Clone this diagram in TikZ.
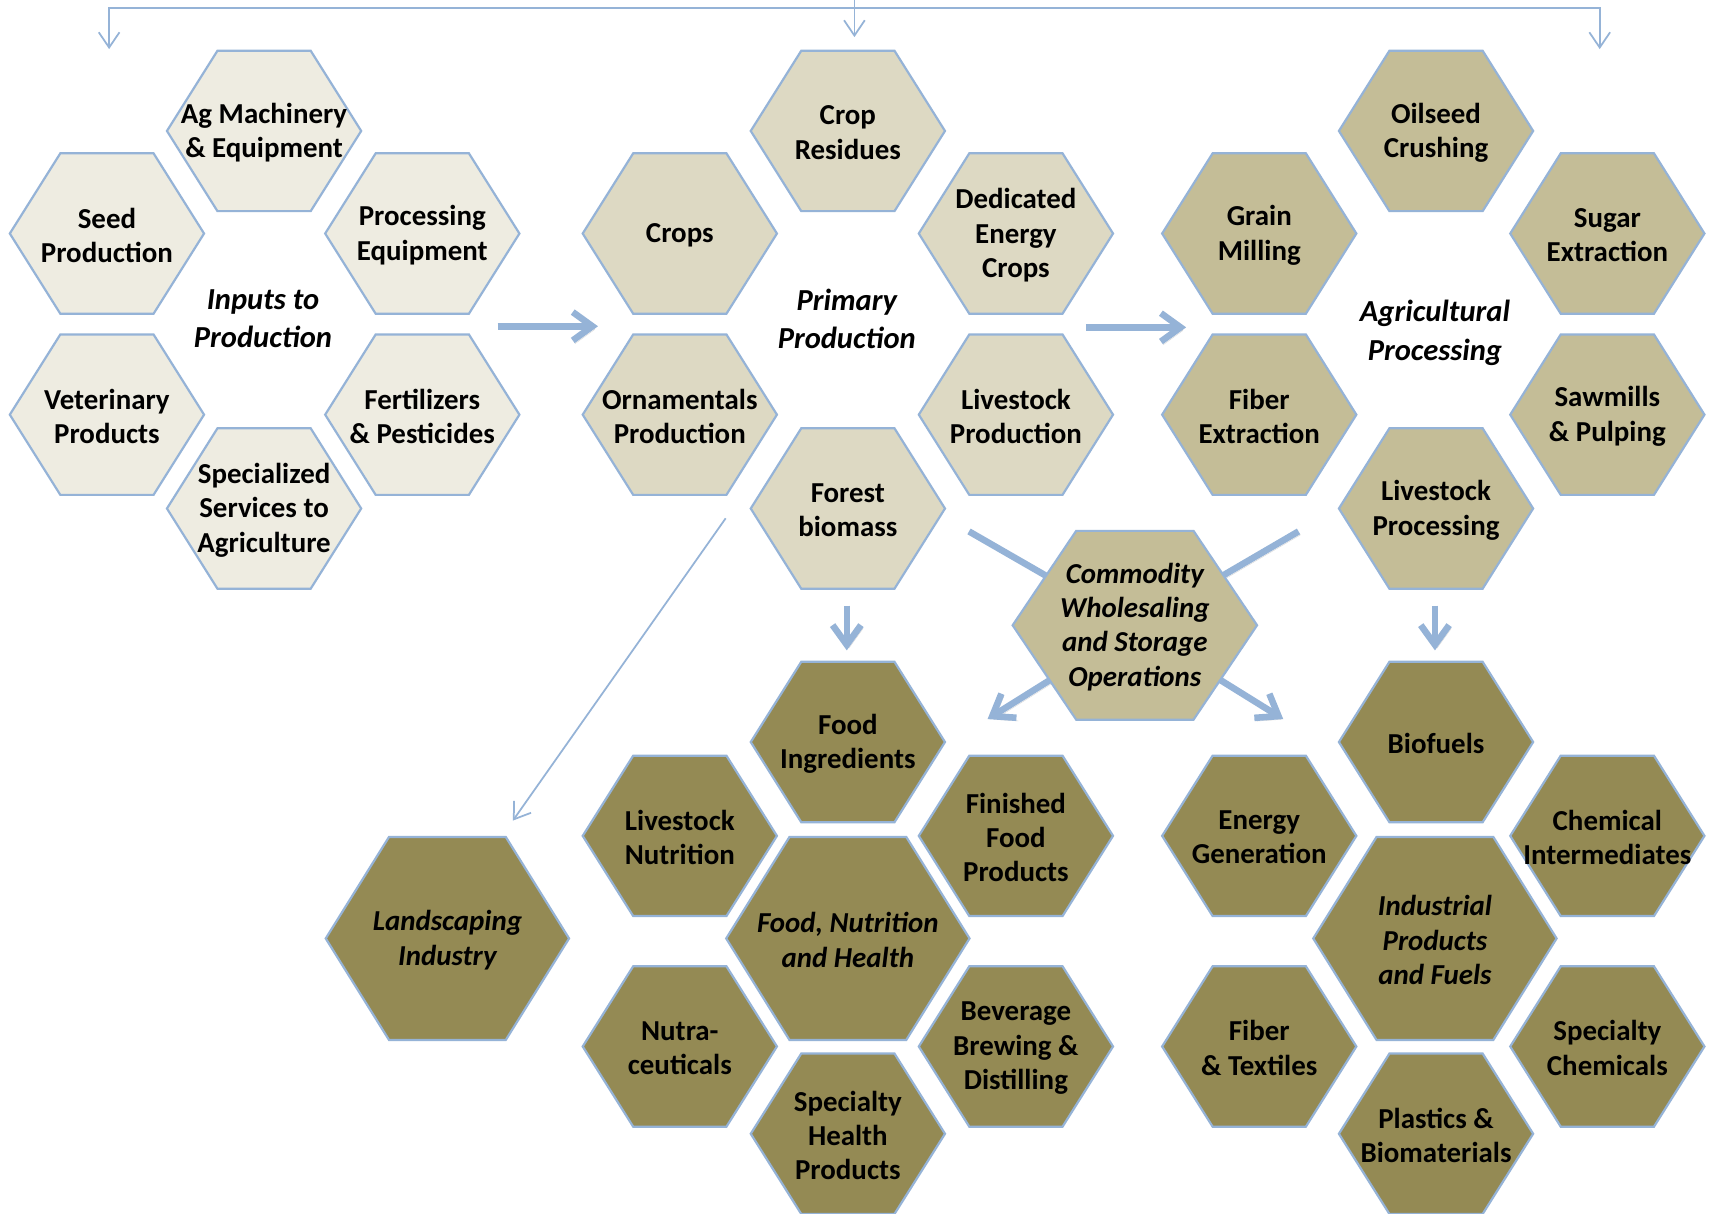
\documentclass[tikz,border=0pt]{standalone}
\usepackage{fontspec}
\setmainfont{Carlito}
\usetikzlibrary{arrows.meta}
\definecolor{cinput}{HTML}{EEECE1}
\definecolor{cprim}{HTML}{DDD9C3}
\definecolor{cproc}{HTML}{C4BD97}
\definecolor{cprod}{HTML}{948A54}
\definecolor{edgeblue}{HTML}{95B3D7}
\pgfdeclarelayer{bg}
\pgfsetlayers{bg,main}
\tikzset{
  hexline/.style={draw=edgeblue, line width=2pt, line join=miter},
  celltext/.style={align=center, inner sep=0pt, yshift=-1.5pt, font=\bfseries\fontsize{26.5}{31.5}\selectfont},
  titletext/.style={align=center, inner sep=0pt, font=\bfseries\itshape\fontsize{28}{35}\selectfont},
  thinline/.style={draw=edgeblue, line width=1.6pt},
  thinarrow/.style={thinline, -{Straight Barb[length=14pt,width=19pt,line width=1.6pt]}},
  thickline/.style={draw=edgeblue, line width=6pt,
    preaction={draw=black!50, opacity=0.3, transform canvas={shift={(2pt,-3pt)}}}},
  thickarrow/.style={thickline, -{Straight Barb[length=18pt,width=26pt,line width=6pt]}}
}
% #1 name, #2 x, #3 y, #4 half-width, #5 half-height, #6 fill, #7 text
\newcommand\hexcell[7]{%
  \path[hexline, fill=#6] ({#2-#4},#3) -- ({#2-0.48*#4},{#3-#5}) -- ({#2+0.48*#4},{#3-#5})
    -- ({#2+#4},#3) -- ({#2+0.48*#4},{#3+#5}) -- ({#2-0.48*#4},{#3+#5}) -- cycle;
  \node[celltext] (#1) at (#2,#3) {#7};
}
\newcommand\smallhex[5]{\hexcell{#1}{#2}{#3}{89}{73.5}{#4}{#5}}
\begin{document}
\begin{tikzpicture}[x=1pt,y=-1pt]
\useasboundingbox (0,0) rectangle (1568,1112);

% Inputs to Production
\smallhex{ag}{242}{120}{cinput}{Ag Machinery\\\& Equipment}
\smallhex{seed}{98}{214}{cinput}{Seed\\Production}
\smallhex{proceq}{387}{214}{cinput}{Processing\\Equipment}
\smallhex{vet}{98}{380}{cinput}{Veterinary\\Products}
\smallhex{fert}{387}{380}{cinput}{Fertilizers\\\& Pesticides}
\smallhex{spec}{242}{466}{cinput}{Specialized\\Services to\\Agriculture}
\node[titletext] (inputs) at (241,292) {Inputs to\\Production};

% Primary Production
\smallhex{resid}{777}{120}{cprim}{Crop\\Residues}
\smallhex{crops}{623}{214}{cprim}{Crops}
\smallhex{dedic}{931}{214}{cprim}{Dedicated\\Energy\\Crops}
\smallhex{orna}{623}{380}{cprim}{Ornamentals\\Production}
\smallhex{lvprod}{931}{380}{cprim}{Livestock\\Production}
\smallhex{forest}{777}{466}{cprim}{Forest\\biomass}
\node[titletext] (primary) at (776,292) {Primary\\Production};

% Agricultural Processing
\smallhex{oil}{1316}{120}{cproc}{Oilseed\\Crushing}
\smallhex{grain}{1154}{214}{cproc}{Grain\\Milling}
\smallhex{sugar}{1473}{214}{cproc}{Sugar\\Extraction}
\smallhex{fiberx}{1154}{380}{cproc}{Fiber\\Extraction}
\smallhex{saw}{1473}{380}{cproc}{Sawmills\\\& Pulping}
\smallhex{lvproc}{1316}{466}{cproc}{Livestock\\Processing}
\node[titletext] (agri) at (1315,305) {Agricultural\\Processing};

% Commodity
\hexcell{comm}{1040}{573}{112}{86.5}{cproc}{\itshape Commodity\\\itshape Wholesaling\\\itshape and Storage\\\itshape Operations}

% Food, Nutrition and Health
\smallhex{foodi}{777}{680}{cprod}{Food\\Ingredients}
\smallhex{lvnut}{623}{766}{cprod}{Livestock\\Nutrition}
\smallhex{fin}{931}{766}{cprod}{Finished\\Food\\Products}
\hexcell{fnh}{777}{860}{111.5}{93}{cprod}{\itshape Food, Nutrition\\\itshape and Health}
\smallhex{nutra}{623}{959}{cprod}{Nutra-\\ceuticals}
\smallhex{bev}{931}{959}{cprod}{Beverage\\Brewing \&\\Distilling}
\smallhex{shp}{777}{1039}{cprod}{Specialty\\Health\\Products}

% Industrial Products and Fuels
\smallhex{biof}{1316}{680}{cprod}{Biofuels}
\smallhex{energy}{1154}{766}{cprod}{Energy\\Generation}
\smallhex{chemi}{1473}{766}{cprod}{Chemical\\Intermediates}
\hexcell{ipf}{1315}{860}{111.5}{93}{cprod}{\itshape Industrial\\\itshape Products\\\itshape and Fuels}
\smallhex{fibt}{1154}{959}{cprod}{Fiber\\\& Textiles}
\smallhex{specc}{1473}{959}{cprod}{Specialty\\Chemicals}
\smallhex{plast}{1316}{1039}{cprod}{Plastics \&\\Biomaterials}

% Landscaping
\hexcell{land}{410}{860}{111.5}{93}{cprod}{\itshape Landscaping\\\itshape Industry}

% connector end points
\coordinate (a1s) at (456,299);  \coordinate (a1e) at (548,299);
\coordinate (a2s) at (995,300);  \coordinate (a2e) at (1087,300);
\coordinate (a3s) at (776,555);  \coordinate (a3e) at (776,596);
\coordinate (a4s) at (1315,555); \coordinate (a4e) at (1315,596);
\coordinate (k1) at (888,487);   \coordinate (k2) at (1190,487);
\coordinate (k3) at (905,659);   \coordinate (k4) at (1176,659);
\coordinate (t0) at (783,0);     \coordinate (t1) at (783,34);
\coordinate (h1) at (100,7);     \coordinate (h1e) at (100,45);
\coordinate (h2) at (1466,7);    \coordinate (h2e) at (1466,45);
\coordinate (d0) at (665,475);   \coordinate (d1) at (470,752);

\begin{pgfonlayer}{bg}
  \fill[white] (0,0) rectangle (1568,1112);
  \draw[thickarrow] (a1s) -- (a1e);
  \draw[thickarrow] (a2s) -- (a2e);
  \draw[thickarrow] (a3s) -- (a3e);
  \draw[thickarrow] (a4s) -- (a4e);
  \draw[thickline] (k1) -- (comm.center);
  \draw[thickline] (k2) -- (comm.center);
  \draw[thickarrow] (comm.center) -- (k3);
  \draw[thickarrow] (comm.center) -- (k4);
\end{pgfonlayer}
\draw[thinline, {Straight Barb[length=14pt,width=19pt,line width=1.6pt]}-{Straight Barb[length=14pt,width=19pt,line width=1.6pt]}]
  (h1e) -- (h1) -- (h2) -- (h2e);
\draw[thinarrow] (t0) -- (t1);
\draw[thinarrow] (d0) -- (d1);
\end{tikzpicture}
\end{document}
